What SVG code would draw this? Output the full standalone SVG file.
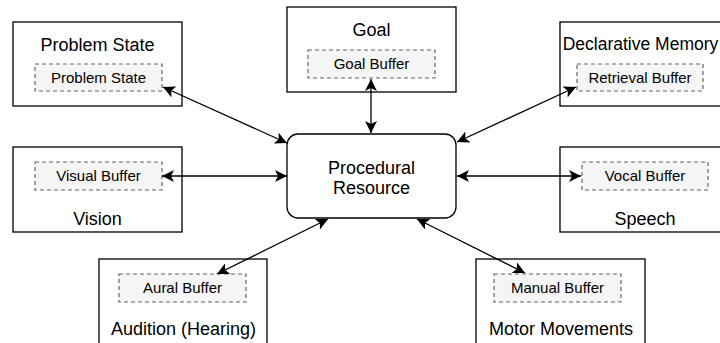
<svg xmlns="http://www.w3.org/2000/svg" width="720" height="343" viewBox="0 0 720 343">
<style>
.box{fill:#fff;stroke:#000;stroke-width:1.3}
.buf{fill:#f5f5f5;stroke:#666;stroke-width:1.2;stroke-dasharray:4 3}
.t{font-family:"Liberation Sans",Arial,sans-serif;font-size:18px;fill:#000;text-anchor:middle}
.s{font-family:"Liberation Sans",Arial,sans-serif;font-size:15px;fill:#000;text-anchor:middle}
.c{fill:none;stroke:#000;stroke-width:1.3;marker-start:url(#ah);marker-end:url(#ah)}
</style>
<defs>
<marker id="ah" viewBox="0 0 12 12" refX="12" refY="6" markerWidth="12" markerHeight="12" markerUnits="userSpaceOnUse" orient="auto-start-reverse">
<path d="M0,0 L12,6 L0,12 L3,6 Z" fill="#000"/>
</marker>
</defs>
<rect width="720" height="343" fill="#fff"/>
<g id="problem-state">
<rect class="box" x="13" y="22" width="169" height="84"/>
<text class="t" x="97.5" y="50.5">Problem State</text>
<rect class="buf" x="35" y="64" width="127" height="27"/>
<text class="s" x="98.5" y="82.8">Problem State</text>
</g>
<g id="goal">
<rect class="box" x="287" y="7" width="169" height="85"/>
<text class="t" x="371.5" y="35.5">Goal</text>
<rect class="buf" x="308" y="50" width="127" height="28"/>
<text class="s" x="371.5" y="69.3">Goal Buffer</text>
</g>
<g id="declarative-memory">
<rect class="box" x="560" y="22" width="169" height="84"/>
<text class="t" x="640.5" y="50" style="font-size:17.5px">Declarative Memory</text>
<rect class="buf" x="577" y="64" width="126" height="27"/>
<text class="s" x="640" y="82.8">Retrieval Buffer</text>
</g>
<g id="procedural">
<rect class="box" x="287" y="134" width="169" height="84" rx="11" ry="11"/>
<text class="t" x="371.5" y="173.5">Procedural</text>
<text class="t" x="371.5" y="194">Resource</text>
</g>
<g id="vision">
<rect class="box" x="13" y="147" width="169" height="85"/>
<rect class="buf" x="35" y="162" width="127" height="28"/>
<text class="s" x="98.5" y="181.3">Visual Buffer</text>
<text class="t" x="97.5" y="225">Vision</text>
</g>
<g id="speech">
<rect class="box" x="560" y="147" width="169" height="85"/>
<rect class="buf" x="582" y="162" width="126" height="28"/>
<text class="s" x="645" y="181.3">Vocal Buffer</text>
<text class="t" x="645" y="225">Speech</text>
</g>
<g id="audition">
<rect class="box" x="99" y="259" width="168" height="100"/>
<rect class="buf" x="119" y="274" width="127" height="28"/>
<text class="s" x="182.5" y="293.3">Aural Buffer</text>
<text class="t" x="183.5" y="335">Audition (Hearing)</text>
</g>
<g id="motor">
<rect class="box" x="476" y="259" width="169" height="100"/>
<rect class="buf" x="494" y="274" width="127" height="28"/>
<text class="s" x="557.5" y="293.3">Manual Buffer</text>
<text class="t" x="561" y="335">Motor Movements</text>
</g>
<g id="connectors">
<line class="c" x1="163" y1="87" x2="287" y2="143"/>
<line class="c" x1="371" y1="79" x2="371" y2="133"/>
<line class="c" x1="457" y1="142" x2="576" y2="87"/>
<line class="c" x1="162" y1="176" x2="287" y2="176"/>
<line class="c" x1="457" y1="176" x2="581" y2="176"/>
<line class="c" x1="217" y1="274" x2="328" y2="219"/>
<line class="c" x1="417" y1="219" x2="525" y2="273"/>
</g>
</svg>
